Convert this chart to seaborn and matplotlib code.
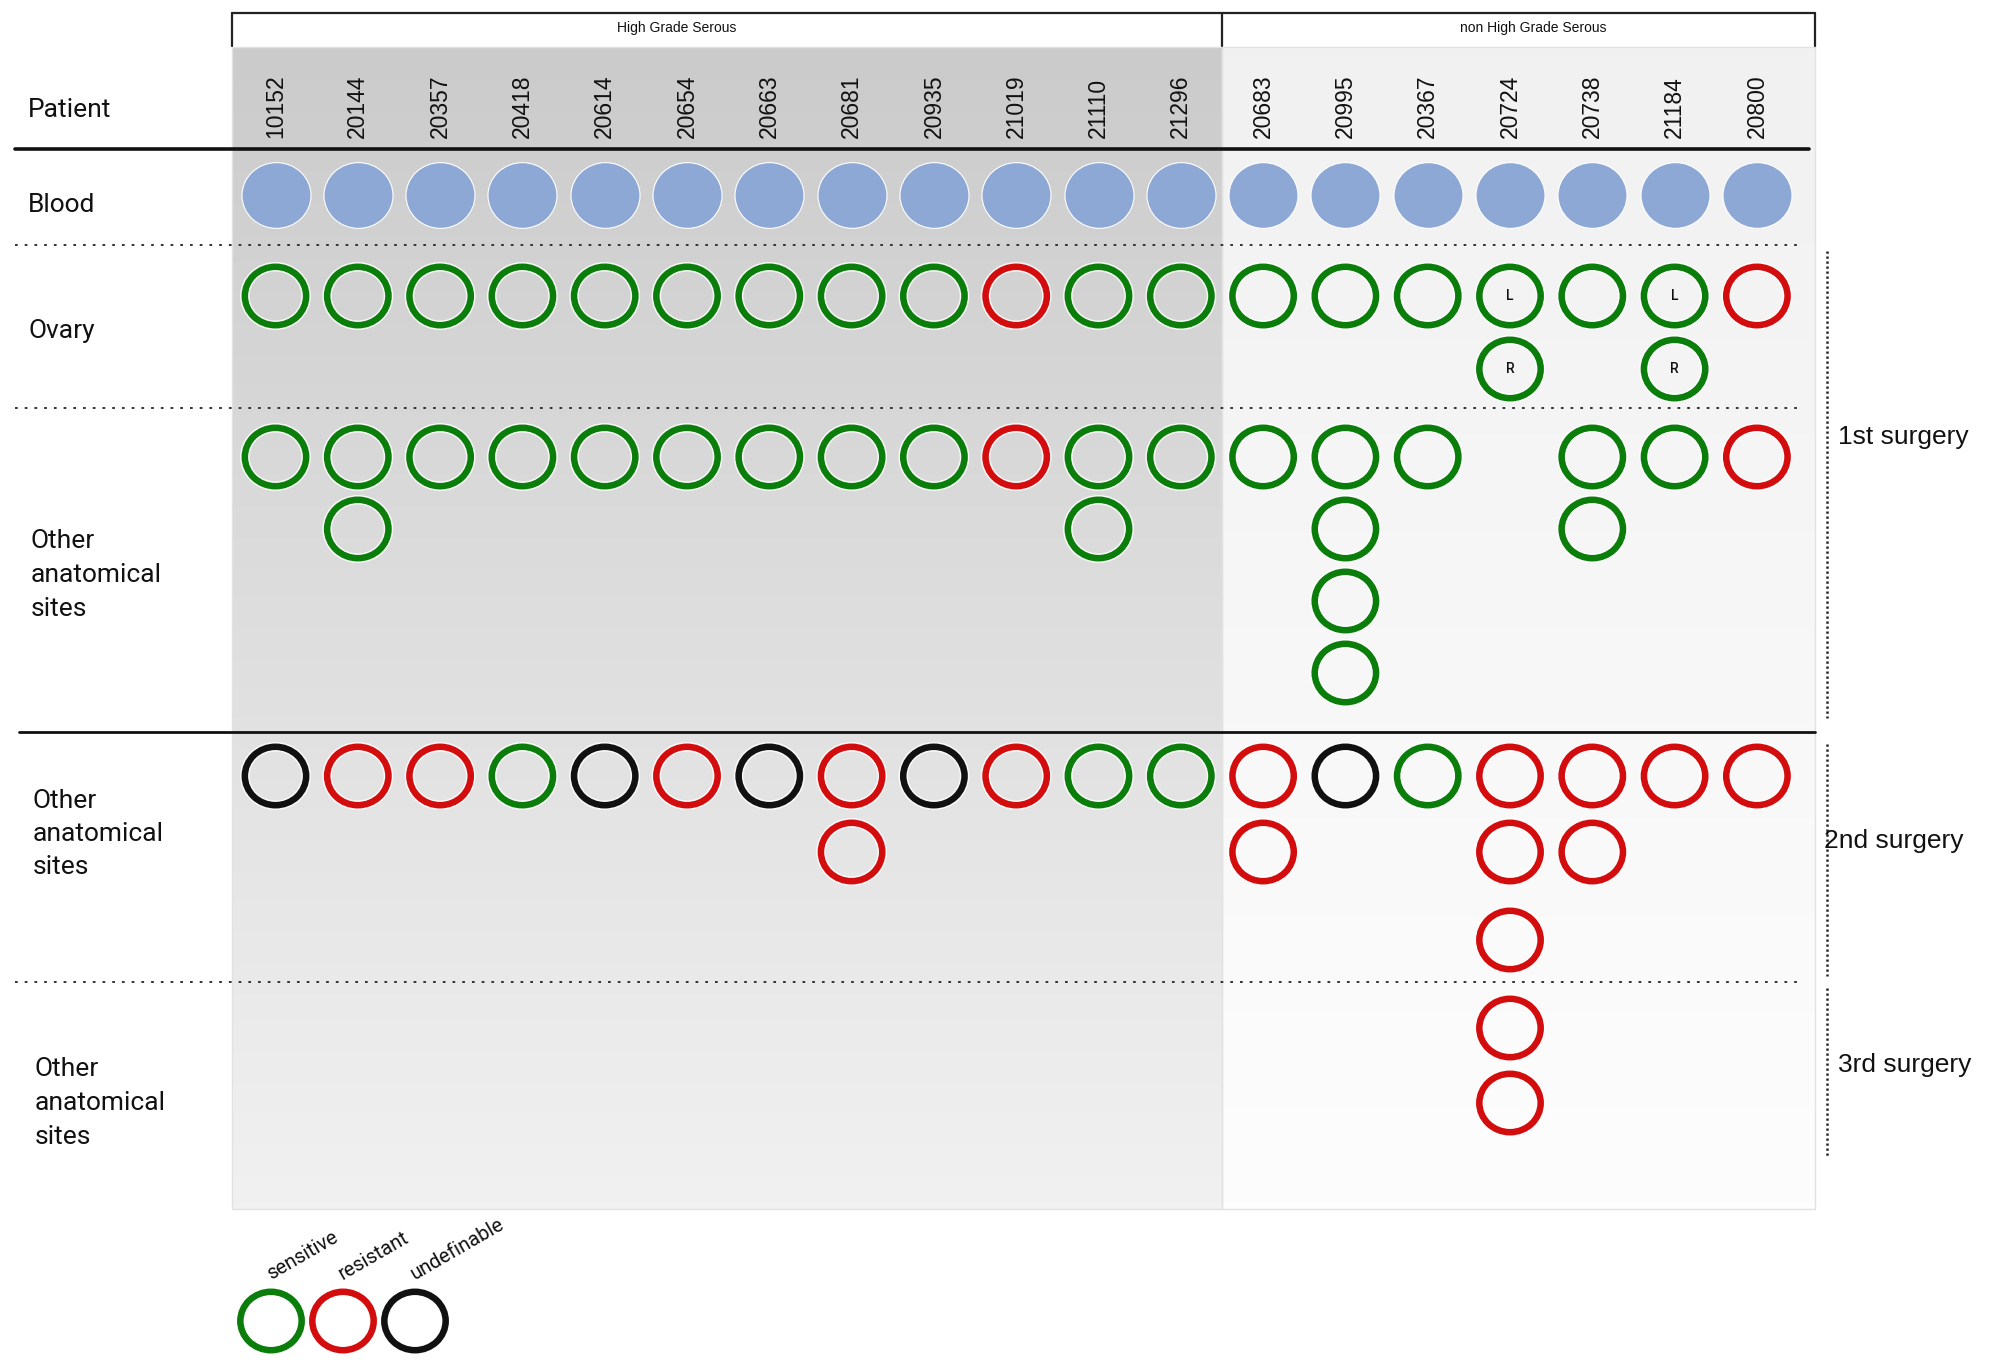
"""Overview of patient samples across surgeries, coloured by drug sensitivity.

Writes out.png (2000x1371).
"""
import matplotlib.pyplot as plt
import numpy as np
import pandas as pd
import seaborn as sns
from matplotlib.colors import LinearSegmentedColormap
from matplotlib.path import Path

# ── data ────────────────────────────────────────────────────────────────────
PATIENTS_HGS = ["10152", "20144", "20357", "20418", "20614", "20654", "20663",
                "20681", "20935", "21019", "21110", "21296"]
PATIENTS_NON_HGS = ["20683", "20995", "20367", "20724", "20738", "21184", "20800"]
PATIENTS = PATIENTS_HGS + PATIENTS_NON_HGS

# one letter per sample: S = sensitive, R = resistant, U = undefinable
OVARY = ["S", "S", "S", "S", "S", "S", "S", "S", "S", "R", "S", "S",
         "S", "S", "S", "SS", "S", "SS", "R"]
OVARY_SIDES = {"20724": "LR", "21184": "LR"}
OTHER_1ST = ["S", "SS", "S", "S", "S", "S", "S", "S", "S", "R", "SS", "S",
             "S", "SSSS", "S", "", "SS", "S", "R"]
OTHER_2ND = ["U", "R", "R", "S", "U", "R", "U", "RR", "U", "R", "S", "S",
             "RR", "U", "S", "RRR", "RR", "R", "R"]
OTHER_3RD = ["", "", "", "", "", "", "", "", "", "", "", "",
             "", "", "", "RR", "", "", ""]

STATUS_CODES = ["S", "R", "U"]
STATUS_NAMES = ["sensitive", "resistant", "undefinable"]
PALETTE = {"S": "#0b7d0b", "R": "#d30d0d", "U": "#111111"}
BLOOD_COLOR = "#8ea8d6"

# ── layout (pixels, figure is 2000 x 1371) ──────────────────────────────────
W, H = 2000, 1371
COL_X0, COL_DX = 275.5, 82.3
BLOOD_Y = 195
ROW_Y = {
    "ovary": [296, 369],
    "1st": [457, 529, 601, 673],
    "2nd": [776, 852, 940],
    "3rd": [1028, 1103],
}
RING_S, RING_LW = 1950, 4.7     # points^2 / points
BLOOD_S = 2470

_circle = Path.unit_circle()
ELLIPSE = Path(_circle.vertices * [1.05, 1.0], _circle.codes)


def _samples() -> pd.DataFrame:
    rows = []
    for section, values in [("ovary", OVARY), ("1st", OTHER_1ST),
                            ("2nd", OTHER_2ND), ("3rd", OTHER_3RD)]:
        for i, (pid, codes) in enumerate(zip(PATIENTS, values)):
            sides = OVARY_SIDES.get(pid, "") if section == "ovary" else ""
            for k, code in enumerate(codes):
                rows.append({
                    "patient": pid, "col": i, "section": section,
                    "status": code, "y": ROW_Y[section][k],
                    "side": sides[k] if k < len(sides) else "",
                })
    return pd.DataFrame(rows)


def _gradient(ax, x0, x1, y0, y1, top, bottom):
    cmap = LinearSegmentedColormap.from_list("g", [top, bottom])
    grad = np.linspace(0, 1, 256).reshape(-1, 1)
    ax.imshow(grad, extent=[x0, x1, y1, y0], cmap=cmap, aspect="auto",
              interpolation="bilinear", zorder=0)
    ax.add_patch(plt.Rectangle((x0, y0), x1 - x0, y1 - y0, fill=False,
                               ec="#e2e2e2", lw=1, zorder=0.5))


def main() -> None:
    sns.set_theme(style="white")
    plt.rcParams["font.family"] = ["Roboto", "DejaVu Sans"]

    fig = plt.figure(figsize=(W / 100, H / 100), dpi=100)
    bg = fig.add_axes([0, 0, 1, 1])
    bg.set_xlim(0, W); bg.set_ylim(H, 0); bg.axis("off")

    # data axes: x = patient index, y = pixel row
    ax = fig.add_axes([0, 0, 1, 1])
    ax.set_xlim(-COL_X0 / COL_DX, (W - COL_X0) / COL_DX)
    ax.set_ylim(H, 0)
    ax.patch.set_alpha(0)
    ax.axis("off")

    split_x = COL_X0 + COL_DX * (len(PATIENTS_HGS) - 0.5)
    left_x = 232
    right_x = 1815

    # shaded group backgrounds
    _gradient(bg, left_x, split_x, 47, 1209, "#cbcbcb", "#f1f1f1")
    _gradient(bg, split_x, right_x, 47, 1209, "#f1f1f1", "#fdfdfd")
    bg.set_xlim(0, W); bg.set_ylim(H, 0)

    # group header box
    bg.plot([left_x, right_x], [13, 13], color="#222", lw=1.6)
    for x in (left_x, split_x, right_x):
        bg.plot([x, x], [13, 46], color="#222", lw=1.6)
    hdr = dict(fontsize=10, family=["Liberation Sans Narrow", "Liberation Sans"],
               ha="center", va="center", color="#111")
    bg.text(677, 28, "High Grade Serous", **hdr)
    bg.text(1533, 28, "non High Grade Serous", **hdr)

    # separators
    bg.plot([15, 1809], [149, 149], color="#111", lw=2.6)
    bg.plot([19, right_x], [732, 732], color="#111", lw=2.0)
    dots = dict(color="#333", lw=1.4, linestyle=(0, (1.4, 3.6)))
    for y in (245, 408, 982):
        bg.plot([15, 1798], [y, y], **dots)
    vdots = dict(color="#222", lw=1.8, linestyle=(0, (0.9, 1.1)))
    for y0, y1 in [(251, 718), (744, 976), (988, 1158)]:
        bg.plot([1827, 1827], [y0, y1], **vdots)

    # row labels
    lab = dict(fontsize=19, ha="left", va="center", color="#111", linespacing=1.5)
    bg.text(28, 110, "Patient", **lab)
    bg.text(28, 205, "Blood", **lab)
    bg.text(29, 331, "Ovary", **lab)
    bg.text(31, 575, "Other\nanatomical\nsites", **lab)
    bg.text(33, 834, "Other\nanatomical\nsites", **lab)
    bg.text(35, 1103, "Other\nanatomical\nsites", **lab)

    surg = dict(fontsize=19, family="Liberation Sans", ha="left", va="center",
                color="#111")
    bg.text(1838, 437, "1st surgery", **surg)
    bg.text(1824, 841, "2nd surgery", **surg)
    bg.text(1838, 1065, "3rd surgery", **surg)

    # patient ids
    for i, pid in enumerate(PATIENTS):
        ax.text(i, 138, pid, rotation=90, ha="center", va="bottom",
                fontsize=16.5, family="Liberation Sans", color="#111")

    # blood samples
    blood = pd.DataFrame({"col": range(len(PATIENTS)), "y": BLOOD_Y})
    sns.scatterplot(data=blood, x="col", y="y", ax=ax, marker=ELLIPSE,
                    s=BLOOD_S, color=BLOOD_COLOR, edgecolor="white",
                    linewidth=0.8, legend=False, zorder=3)

    # tissue samples as rings
    samples = _samples()
    sns.scatterplot(data=samples, x="col", y="y", ax=ax, marker=ELLIPSE,
                    s=RING_S, facecolor="none", edgecolor="white",
                    linewidth=RING_LW + 2.2, alpha=0.8, legend=False, zorder=3)
    for code in STATUS_CODES:
        sub = samples[samples["status"] == code]
        if sub.empty:
            continue
        sns.scatterplot(data=sub, x="col", y="y", ax=ax, marker=ELLIPSE,
                        s=RING_S, facecolor="none", edgecolor=PALETTE[code],
                        linewidth=RING_LW, legend=False, zorder=4)
    for _, r in samples[samples["side"] != ""].iterrows():
        ax.text(r["col"], r["y"], r["side"], ha="center", va="center",
                fontsize=10, fontweight="medium", color="#111", zorder=5)

    ax.set_xlim(-COL_X0 / COL_DX, (W - COL_X0) / COL_DX)
    ax.set_ylim(H, 0)
    ax.set_xlabel(""); ax.set_ylabel("")

    # legend
    leg = pd.DataFrame({"x": [271 + 72 * k for k in range(3)], "y": 1321,
                        "status": STATUS_CODES})
    for k, code in enumerate(STATUS_CODES):
        sns.scatterplot(data=leg.iloc[[k]], x="x", y="y", ax=bg, marker=ELLIPSE,
                        s=RING_S, facecolor="none", edgecolor=PALETTE[code],
                        linewidth=RING_LW, legend=False, zorder=4)
        bg.text(leg["x"].iloc[k], 1280, STATUS_NAMES[k], rotation=30,
                rotation_mode="anchor", ha="left", va="baseline",
                fontsize=14.5, color="#111")
    bg.set_xlim(0, W); bg.set_ylim(H, 0)
    bg.set_xlabel(""); bg.set_ylabel("")
    bg.axis("off")

    fig.savefig("out.png", dpi=100, facecolor="white")
    plt.close(fig)


if __name__ == "__main__":
    main()
